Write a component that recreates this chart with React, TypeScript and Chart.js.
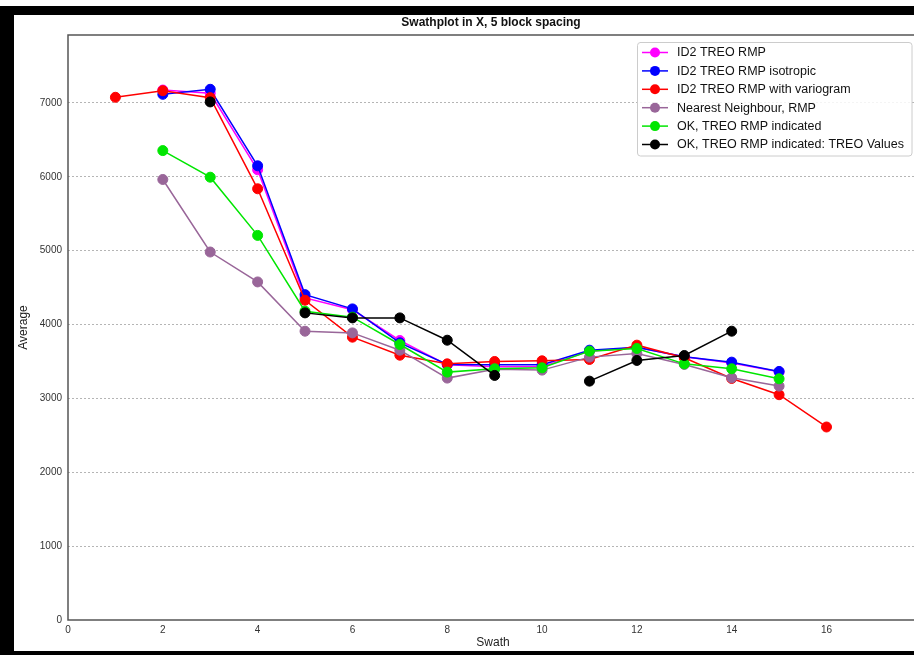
import React, { useEffect, useRef } from "react";
import { Chart, registerables } from "chart.js";

Chart.register(...registerables);

const swaths = [1, 2, 3, 4, 5, 6, 7, 8, 9, 10, 11, 12, 13, 14, 15, 16];
const id2Rmp = [null, 7175, 7131, 6095, 4360, 4200, 3784, 3455, 3428, 3428, 3640, 3690, 3563, 3480, 3360, null];
const id2Iso = [null, 7117, 7185, 6149, 4405, 4212, 3752, 3460, 3455, 3455, 3653, 3694, 3563, 3491, 3365, null];
const id2Vario = [7077, 7166, 7072, 5838, 4329, 3829, 3585, 3468, 3500, 3509, 3527, 3721, 3550, 3270, 3050, 2613];
const nnRmp = [null, 5964, 4982, 4577, 3910, 3887, 3653, 3275, 3395, 3383, 3559, 3608, 3460, 3279, 3167, null];
const okRmp = [null, 6355, 5995, 5207, 4180, 4100, 3730, 3356, 3401, 3414, 3640, 3676, 3468, 3401, 3266, null];
const okTreo = [null, null, 7014, null, 4158, 4090, 4090, 3788, 3311, null, 3234, 3514, 3581, 3910, null, null];

const seriesNames = [
  "ID2 TREO RMP",
  "ID2 TREO RMP isotropic",
  "ID2 TREO RMP with variogram",
  "Nearest Neighbour, RMP",
  "OK, TREO RMP indicated",
  "OK, TREO RMP indicated: TREO Values",
];
const seriesValues = [id2Rmp, id2Iso, id2Vario, nnRmp, okRmp, okTreo];
const seriesColors = ["#ff00ff", "#0000ff", "#ff0000", "#996699", "#00e600", "#000000"];

const yTicks = [0, 1000, 2000, 3000, 4000, 5000, 6000, 7000];
const xTicks = [0, 2, 4, 6, 8, 10, 12, 14, 16];

const titleText = "Swathplot in X, 5 block spacing";
const xTitle = "Swath";
const yTitle = "Average";

const FONT = "'Liberation Sans', Arial, sans-serif";
const CW = 924;

const decorPlugin = {
  id: "decor",
  beforeDatasetsDraw(chart: any) {
    const { ctx, chartArea } = chart;
    const { left, top, right, bottom } = chartArea;
    ctx.save();
    ctx.strokeStyle = "#555";
    ctx.lineWidth = 1.5;
    ctx.beginPath();
    ctx.moveTo(right + 10, top);
    ctx.lineTo(left, top);
    ctx.lineTo(left, bottom);
    ctx.lineTo(right + 10, bottom);
    ctx.stroke();
    ctx.restore();
  },
  afterDraw(chart: any) {
    const { ctx, chartArea } = chart;
    const W = chart.width;
    const H = chart.height;
    ctx.save();
    // title
    ctx.fillStyle = "#111";
    ctx.font = `bold 12px ${FONT}`;
    ctx.textAlign = "center";
    ctx.textBaseline = "middle";
    ctx.fillText(titleText, 491, 23);
    // axis titles
    ctx.font = `12px ${FONT}`;
    ctx.fillStyle = "#222";
    ctx.fillText(xTitle, 493, 643);
    ctx.save();
    ctx.translate(24, (chartArea.top + chartArea.bottom) / 2);
    ctx.rotate(-Math.PI / 2);
    ctx.fillText(yTitle, 0, 0);
    ctx.restore();

    // legend
    const bx = 637, by = 42, bw = 275, bh = 114;
    ctx.fillStyle = "rgba(255,255,255,0.85)";
    ctx.strokeStyle = "#cccccc";
    ctx.lineWidth = 1;
    ctx.beginPath();
    const r = 3;
    ctx.moveTo(bx + r, by + 0.5);
    ctx.arcTo(bx + bw, by + 0.5, bx + bw, by + bh, r);
    ctx.arcTo(bx + bw, by + bh, bx, by + bh, r);
    ctx.arcTo(bx + 0.5, by + bh, bx + 0.5, by, r);
    ctx.arcTo(bx + 0.5, by + 0.5, bx + bw, by + 0.5, r);
    ctx.closePath();
    ctx.fill();
    ctx.stroke();
    ctx.font = `12.5px ${FONT}`;
    ctx.textAlign = "left";
    ctx.textBaseline = "middle";
    seriesNames.forEach((name, i) => {
      const y = 52.5 + i * 18.4;
      ctx.strokeStyle = seriesColors[i];
      ctx.lineWidth = 1.5;
      ctx.beginPath();
      ctx.moveTo(642, y);
      ctx.lineTo(668, y);
      ctx.stroke();
      ctx.fillStyle = seriesColors[i];
      ctx.beginPath();
      ctx.arc(655, y, 5, 0, Math.PI * 2);
      ctx.fill();
      ctx.fillStyle = "#111";
      ctx.fillText(name, 677, y + 0.5);
    });

    // black frame
    ctx.fillStyle = "#000";
    ctx.fillRect(0, 6, W, 9);
    ctx.fillRect(0, 6, 14, H - 6);
    ctx.fillRect(0, 651, W, H - 651);
    ctx.restore();
  },
};

export default function App() {
  const ref = useRef<HTMLCanvasElement>(null);
  useEffect(() => {
    if (!ref.current) return;
    const datasets = seriesNames.map((name, i) => ({
      label: name,
      data: swaths.map((s, j) => ({ x: s, y: seriesValues[i][j] })),
      borderColor: seriesColors[i],
      backgroundColor: seriesColors[i],
      pointBackgroundColor: seriesColors[i],
      pointBorderColor: seriesColors[i],
      borderWidth: 1.5,
      pointRadius: 5,
      pointBorderWidth: 1,
      spanGaps: false,
      order: seriesNames.length - i,
      tension: 0,
    }));
    const chart = new Chart(ref.current, {
      type: "line",
      data: { datasets },
      options: {
        responsive: false,
        animation: false,
        events: [],
        layout: { padding: { left: 14, top: 35, right: 2, bottom: 0 } },
        plugins: {
          legend: { display: false },
          title: { display: false },
          tooltip: { enabled: false },
        },
        scales: {
          x: {
            type: "linear",
            min: 0,
            max: 17.93,
            afterFit: (s: any) => {
              s.height = 35;
            },
            afterBuildTicks: (s: any) => {
              s.ticks = xTicks.map((v) => ({ value: v }));
            },
            ticks: {
              includeBounds: false,
              padding: 4,
              color: "#333",
              font: { family: FONT, size: 10 },
              maxRotation: 0,
              callback: (v: any) => String(v),
            },
            grid: { display: false, drawTicks: false },
            border: { display: false },
          },
          y: {
            type: "linear",
            min: 0,
            max: 7920,
            afterFit: (s: any) => {
              s.width = 54;
            },
            afterBuildTicks: (s: any) => {
              s.ticks = yTicks.map((v) => ({ value: v }));
            },
            ticks: {
              includeBounds: false,
              padding: 6,
              color: "#333",
              font: { family: FONT, size: 10 },
              callback: (v: any) => String(v),
            },
            grid: {
              drawTicks: false,
              color: (c: any) => (c.tick && c.tick.value === 0 ? "rgba(0,0,0,0)" : "#b5b5b5"),
              lineWidth: 1,
            },
            border: { display: false, dash: [2, 2] },
          },
        },
      },
      plugins: [decorPlugin],
    });
    return () => chart.destroy();
  }, []);
  return (
    <div style={{ position: "fixed", left: 0, top: 0, width: 914, height: 655, background: "#fff", overflow: "hidden" }}>
      <canvas ref={ref} width={CW} height={655} style={{ display: "block" }} />
    </div>
  );
}
